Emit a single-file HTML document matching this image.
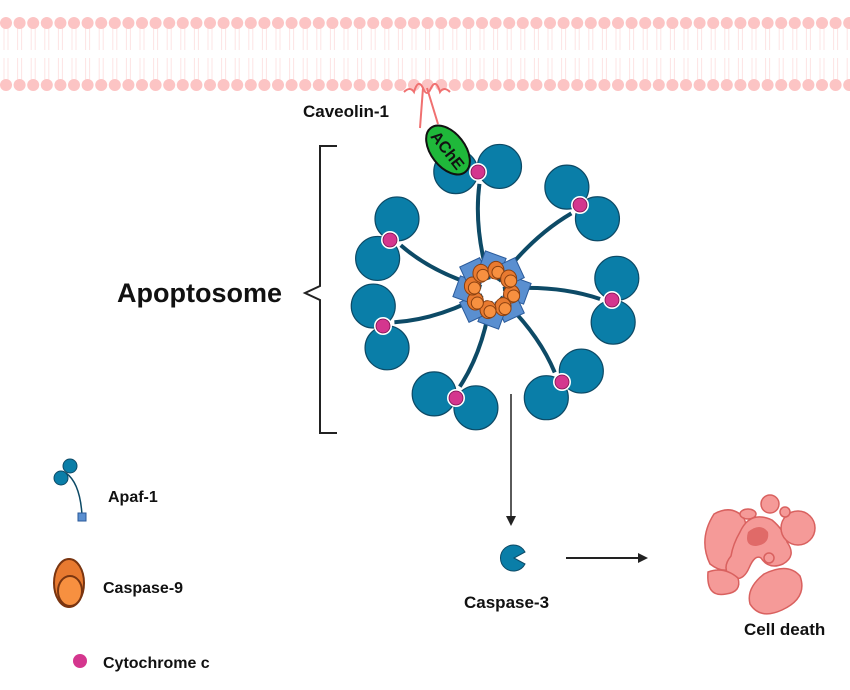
<!DOCTYPE html>
<html><head><meta charset="utf-8"><style>
body{margin:0;background:#fff;}
svg{display:block;font-family:"Liberation Sans",sans-serif;}
</style></head><body>
<svg id="s" width="850" height="690" viewBox="0 0 850 690" xmlns="http://www.w3.org/2000/svg">
<g id="mem"></g>
<!-- caveolin -->
<path d="M404,92 q6,-6 10,0 q4,-14 9,-4 q4,10 8,0 q5,-10 9,4 q4,-6 10,0" fill="none" stroke="#f07070" stroke-width="2"/>
<path d="M423,88 L420,128 M427,88 L438,124" fill="none" stroke="#f07070" stroke-width="2"/>
<text x="303" y="117" font-size="17" font-weight="bold" fill="#111">Caveolin-1</text>
<!-- bracket -->
<path d="M337,146 H320 V286 L305,293 L320,300 V433 H337" fill="none" stroke="#222" stroke-width="2"/>
<text x="117" y="302" font-size="27" font-weight="bold" fill="#111">Apoptosome</text>
<g id="apo"></g>
<!-- AChE -->
<g transform="translate(448,150) rotate(52)">
<ellipse rx="28" ry="17" fill="#1fb83a" stroke="#111" stroke-width="2"/>
<text x="0" y="6" font-size="16" font-weight="bold" text-anchor="middle" fill="#111">AChE</text>
</g>
<!-- arrows -->
<line x1="511" y1="394" x2="511" y2="518" stroke="#222" stroke-width="1.5"/>
<path d="M506,516 L516,516 L511,526 Z" fill="#222"/>
<line x1="566" y1="558" x2="640" y2="558" stroke="#222" stroke-width="2"/>
<path d="M638,553 L648,558 L638,563 Z" fill="#222"/>
<!-- caspase-3 -->
<path d="M525,552 A13,13 0 1 0 525,564 L514,558 Z" fill="#0a7ea8" stroke="#0d4a66" stroke-width="1"/>
<text x="464" y="608" font-size="17" font-weight="bold" fill="#111">Caspase-3</text>
<!-- cell death -->
<g transform="translate(-2,-8)">
<g fill="#f59a98" stroke="#d9615f" stroke-width="1.5">
<path d="M716,522 q18,-10 30,4 q8,22 -4,42 q-12,18 -30,4 q-12,-25 4,-50 z"/>
<path d="M742,540 q10,-22 32,-12 q12,10 15,22 q10,14 -4,22 q-14,6 -22,-6 q-6,-4 -12,10 q-6,14 -18,10 q-10,-10 0,-22 q2,-12 9,-24z"/>
<path d="M766,582 q24,-12 36,2 q8,22 -18,34 q-22,10 -32,-6 q-4,-16 14,-30z"/>
<path d="M710,580 q16,-6 30,6 q4,14 -12,16 q-20,4 -18,-22z"/>
<circle cx="800" cy="536" r="17"/>
<circle cx="772" cy="512" r="9"/>
<circle cx="787" cy="520" r="5"/>
<circle cx="771" cy="566" r="5"/>
<ellipse cx="750" cy="522" rx="8" ry="5"/>
</g>
<path d="M750,540 q12,-10 20,0 q2,12 -12,14 q-12,0 -8,-14z" fill="#e06a68"/>
</g>
<text x="744" y="635" font-size="17" font-weight="bold" fill="#111">Cell death</text>
<!-- legend -->
<g fill="#0a7ea8" stroke="#0d4a66" stroke-width="1">
<circle cx="70" cy="466" r="7"/><circle cx="61" cy="478" r="7"/>
</g>
<path d="M66,473 q14,10 16,42" fill="none" stroke="#0d4a66" stroke-width="1.5"/>
<rect x="78" y="513" width="8" height="8" fill="#5a8fd0" stroke="#2a5a9a"/>
<text x="108" y="502" font-size="16" font-weight="bold" fill="#111">Apaf-1</text>
<ellipse cx="69" cy="583" rx="15" ry="24" fill="#e87a30" stroke="#7a3510" stroke-width="2"/>
<ellipse cx="70" cy="591" rx="12" ry="15" fill="#f79040" stroke="#7a3510" stroke-width="2"/>
<text x="103" y="593" font-size="16" font-weight="bold" fill="#111">Caspase-9</text>
<circle cx="80" cy="661" r="7" fill="#d4368e"/>
<text x="103" y="668" font-size="16" font-weight="bold" fill="#111">Cytochrome c</text>
</svg>
<script>
var NS="http://www.w3.org/2000/svg";
function el(p,t,a){var e=document.createElementNS(NS,t);for(var k in a)e.setAttribute(k,a[k]);p.appendChild(e);return e;}
var m=document.getElementById("mem");
for(var x=6;x<850;x+=13.6){
 el(m,"path",{d:"M"+(x-2)+",28 V50 M"+(x+2)+",28 V50 M"+(x-2)+",58 V80 M"+(x+2)+",58 V80",stroke:"#fde4e4","stroke-width":"1",fill:"none"});
 el(m,"circle",{cx:x,cy:23,r:6,fill:"#fcc4c4"});
 el(m,"circle",{cx:x,cy:85,r:6,fill:"#fcc4c4"});
}
var a=document.getElementById("apo");
var cx=492,cy=290;
var units=[[478,172],[580,205],[612,300],[562,382],[456,398],[383,326],[390,240]];
units.forEach(function(u){
 var dx=u[0]-cx,dy=u[1]-cy,L=Math.hypot(dx,dy),ux=dx/L,uy=dy/L;
 var mx=cx+dx*0.5+uy*12,my=cy+dy*0.5-ux*12;
 el(a,"path",{d:"M"+cx+","+cy+" Q"+mx+","+my+" "+(u[0]-ux*12)+","+(u[1]-uy*12),stroke:"#0d4a66","stroke-width":"4",fill:"none"});
});
units.forEach(function(u){
 var dx=u[0]-cx,dy=u[1]-cy,L=Math.hypot(dx,dy),ux=dx/L,uy=dy/L;
 [1,-1].forEach(function(s){
  el(a,"circle",{cx:u[0]+uy*s*22+ux*3,cy:u[1]-ux*s*22+uy*3,r:22,fill:"#0a7ea8",stroke:"#0d4a66","stroke-width":"1.2"});
 });
 el(a,"circle",{cx:u[0],cy:u[1],r:9,fill:"#fff"});
 el(a,"circle",{cx:u[0],cy:u[1],r:7,fill:"#d4368e",stroke:"#7a1050","stroke-width":"0.8"});
});
for(var i=0;i<8;i++){
 var t=i*Math.PI/4,px=cx+Math.cos(t)*25,py=cy+Math.sin(t)*25;
 el(a,"rect",{x:px-11,y:py-11,width:22,height:22,fill:"#5a8fd0",stroke:"#2a5a9a",transform:"rotate("+(i*45+20)+" "+px+" "+py+")"});
}
for(var i=0;i<8;i++){
 var t=i*Math.PI/4+0.2,px=cx+Math.cos(t)*20,py=cy+Math.sin(t)*20;
 el(a,"ellipse",{cx:px,cy:py,rx:8,ry:9,fill:"#e87a30",stroke:"#8a4010"});
 el(a,"circle",{cx:px+2,cy:py+2,r:6,fill:"#f79040",stroke:"#8a4010"});
}
el(a,"circle",{cx:cx,cy:cy,r:11,fill:"#fff"});
</script>
</body></html>
